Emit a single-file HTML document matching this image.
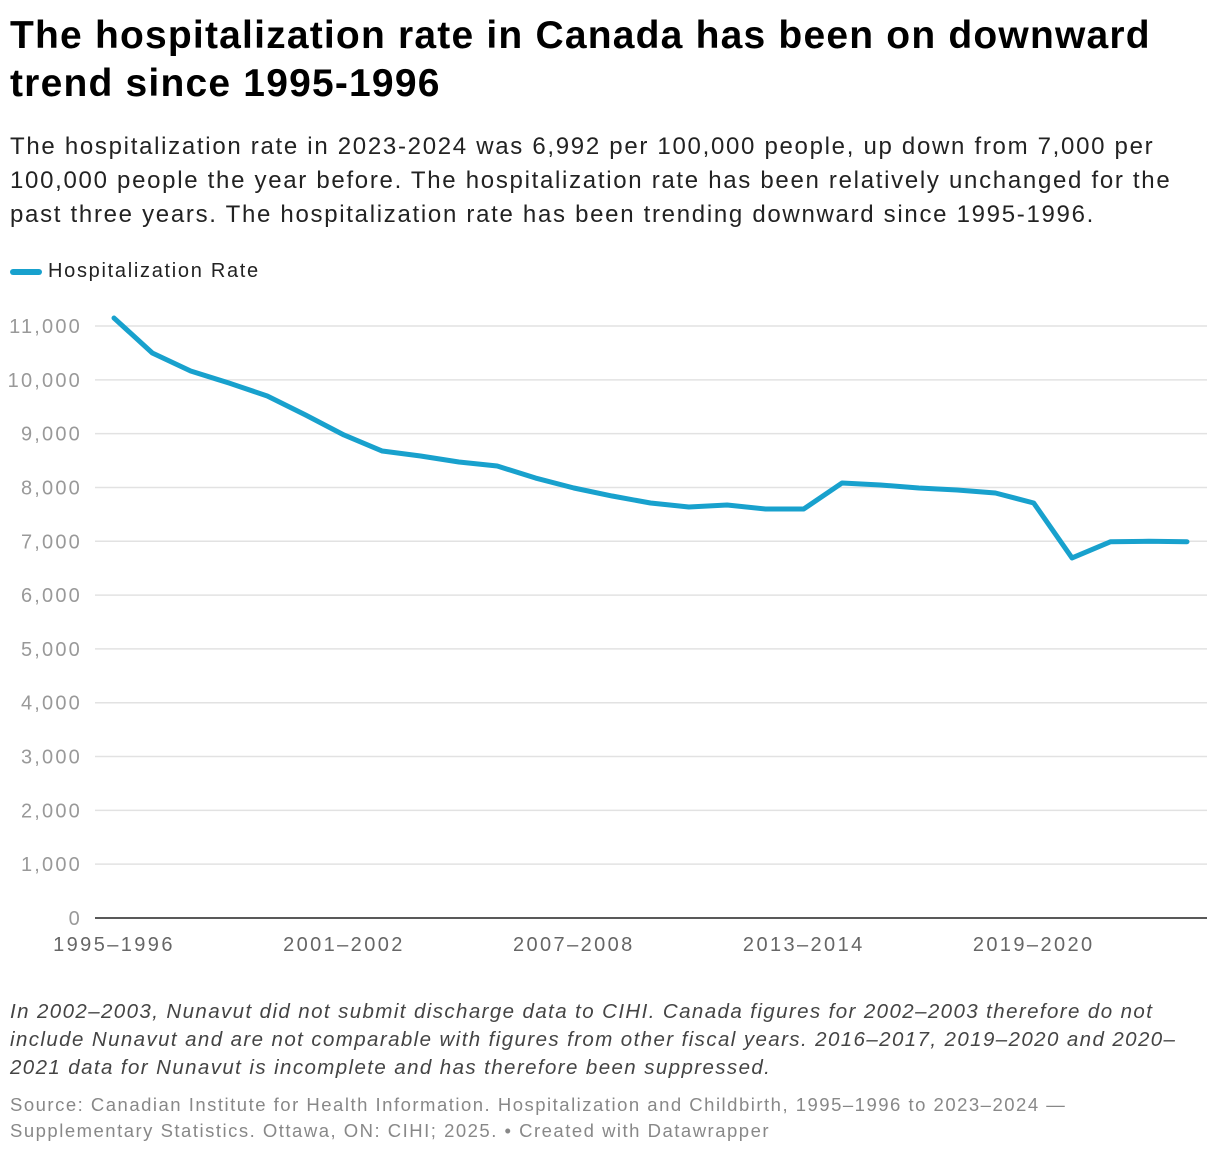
<!DOCTYPE html>
<html><head><meta charset="utf-8"><style>
body{margin:0;background:#fff;width:1220px;height:1156px;overflow:hidden;font-family:"Liberation Sans",sans-serif;}
.t{position:absolute;left:10px;white-space:nowrap;}
</style></head><body>
<div class="t" style="top:12px;font-size:39px;font-weight:bold;line-height:48px;color:#000;letter-spacing:1.2px">The hospitalization rate in Canada has been on downward<br>trend since 1995-1996</div>
<div class="t" style="top:130px;font-size:24px;line-height:34px;color:#222;letter-spacing:1.7px">The hospitalization rate in 2023-2024 was 6,992 per 100,000 people, up down from 7,000 per<br>100,000 people the year before. The hospitalization rate has been relatively unchanged for the<br>past three years. The hospitalization rate has been trending downward since 1995-1996.</div>
<div style="position:absolute;left:10px;top:260px;font-size:20px;color:#222;white-space:nowrap;letter-spacing:1.7px"><span style="display:inline-block;width:32px;height:6px;border-radius:3px;background:#18a1cd;vertical-align:middle;margin-right:6px"></span>Hospitalization Rate</div>
<svg id="chart" width="1220" height="1156" style="position:absolute;left:0;top:0"></svg>
<div class="t" style="top:998px;font-size:20.5px;line-height:28px;color:#444;font-style:italic;letter-spacing:1.4px">In 2002–2003, Nunavut did not submit discharge data to CIHI. Canada figures for 2002–2003 therefore do not<br>include Nunavut and are not comparable with figures from other fiscal years. 2016–2017, 2019–2020 and 2020–<br>2021 data for Nunavut is incomplete and has therefore been suppressed.</div>
<div class="t" style="top:1092px;font-size:18.5px;line-height:26px;color:#888;letter-spacing:1.5px">Source: Canadian Institute for Health Information. Hospitalization and Childbirth, 1995–1996 to 2023–2024 —<br>Supplementary Statistics. Ottawa, ON: CIHI; 2025. • Created with Datawrapper</div>
<script>
const years=[1995,1996,1997,1998,1999,2000,2001,2002,2003,2004,2005,2006,2007,2008,2009,2010,2011,2012,2013,2014,2015,2016,2017,2018,2019,2020,2021,2022,2023];
const rates=[11148,10498,10163,9940,9700,9346,8975,8677,8584,8473,8398,8175,7990,7841,7711,7637,7674,7600,7600,8083,8046,7990,7953,7897,7711,6690,6990,7000,6992];
const yTicks=[0,1000,2000,3000,4000,5000,6000,7000,8000,9000,10000,11000];
const xTickYears=[1995,2001,2007,2013,2019];
const NS="http://www.w3.org/2000/svg";
const svg=document.getElementById('chart');
const x=v=>114+(v-1995)*(1187-114)/28;
const y=v=>918-v*(918-326)/11000;
function mk(t,a){const e=document.createElementNS(NS,t);for(const k in a)e.setAttribute(k,a[k]);svg.appendChild(e);return e;}
yTicks.forEach(v=>{
  if(v>0){const g=mk('line',{x1:95,x2:1207,y1:y(v),y2:y(v),stroke:'#e2e2e2','stroke-width':1.5});
  
  }
  const t=mk('text',{x:82,y:y(v)+7,'text-anchor':'end','font-size':20,fill:'#999','font-family':'Liberation Sans, sans-serif','letter-spacing':2.2});
  t.textContent=v.toLocaleString('en-US');
  
  
});
const base=mk('line',{x1:95,x2:1207,y1:918,y2:918,stroke:'#222','stroke-width':1.5});


xTickYears.forEach(v=>{
  const t=mk('text',{x:x(v),y:951,'text-anchor':'middle','font-size':20,fill:'#666','font-family':'Liberation Sans, sans-serif','letter-spacing':2.4});
  t.textContent=v+'–'+(v+1);
  
  
});
const p=mk('polyline',{points:years.map((yr,i)=>x(yr)+','+y(rates[i])).join(' '),fill:'none',stroke:'#18a1cd','stroke-width':5,'stroke-linejoin':'round','stroke-linecap':'round'});


</script>
</body></html>
